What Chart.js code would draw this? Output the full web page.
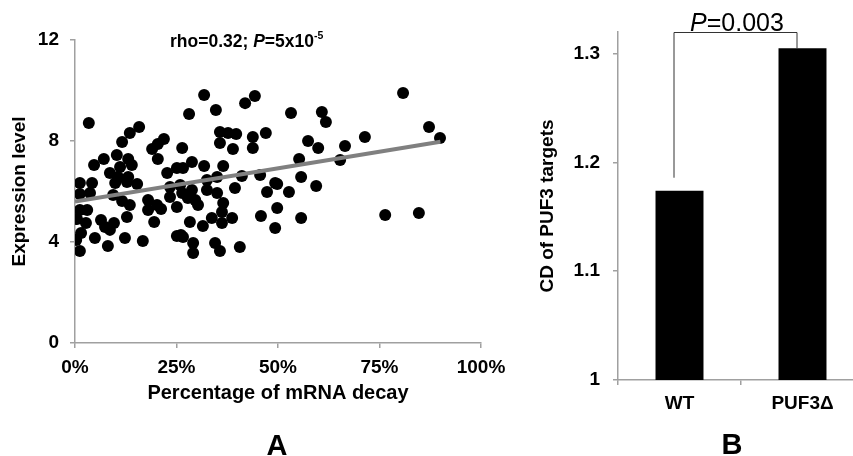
<!DOCTYPE html>
<html><head><meta charset="utf-8">
<script src="https://cdn.jsdelivr.net/npm/chart.js@4/dist/chart.umd.min.js"></script>
<style>
html,body{margin:0;padding:0;background:#fff;width:853px;height:456px;overflow:hidden;}
#wrapA{position:absolute;left:0;top:0;width:520px;height:456px;}
#wrapB{position:absolute;left:520px;top:0;width:333px;height:456px;overflow:hidden;}
.lbl{position:absolute;font-family:"Liberation Sans",Arial,sans-serif;color:#000;white-space:nowrap;line-height:1;}
</style></head><body>
<div id="wrapA"><canvas id="cA" width="520" height="456"></canvas></div>
<div id="wrapB"><canvas id="cB" width="344" height="456"></canvas></div>
<div class="lbl" style="left:170px;top:33px;font-size:17.5px;font-weight:bold;">rho=0.32; <i>P</i>=5x10<span style="font-size:10.5px;position:relative;top:-8px;">-5</span></div>
<div class="lbl" style="left:687px;top:10px;width:100px;text-align:center;font-size:25px;"><i>P</i>=0.003</div>
<div class="lbl" style="left:247px;top:431px;width:60px;text-align:center;font-size:29px;font-weight:bold;">A</div>
<div class="lbl" style="left:702px;top:430px;width:60px;text-align:center;font-size:29px;font-weight:bold;">B</div>
<script>
// ---- Panel A data ----
const decayPct = [3.4,31.8,44.3,41.9,28.1,34.7,15.8,13.5,11.6,21.9,
20.4,19.0,26.4,35.7,37.7,39.7,43.8,47.0,35.7,38.9,
43.8,53.2,60.8,61.8,80.8,87.2,89.9,57.4,59.9,66.5,
71.4,20.4,7.1,4.7,10.3,13.1,14.0,11.1,8.6,10.6,
13.1,15.3,22.7,25.1,28.8,31.8,36.5,35.0,32.5,41.1,
45.6,49.3,55.2,65.3,55.7,59.4,26.6,39.4,32.5,47.3,
52.7,1.2,4.2,1.2,3.7,9.9,23.4,25.9,28.8,12.8,
9.4,11.6,13.5,18.0,20.2,21.2,18.0,23.4,25.1,26.4,
27.8,29.6,30.3,35.0,1.2,3.0,49.8,0.5,2.7,1.5,
1.2,0.3,4.9,6.4,7.4,8.6,8.1,12.3,12.8,16.7,
19.5,25.1,26.6,29.1,29.1,34.5,35.7,40.6,28.3,31.5,
33.7,36.2,38.7,45.8,49.3,36.2,36.5,49.8,55.7,76.4,
84.7,26.1,9.6];
const expressionLevel = [8.71,9.82,9.78,9.50,9.07,9.23,8.55,8.32,7.96,8.08,
7.88,7.68,7.72,8.36,8.32,8.28,8.16,8.32,7.92,7.68,
7.72,9.11,9.15,8.75,9.90,8.55,8.12,8.00,7.72,7.80,
8.16,7.29,7.29,7.05,7.45,7.29,7.05,6.97,6.73,6.57,
6.57,6.30,6.73,6.93,7.17,7.01,7.01,6.57,6.46,6.61,
6.65,6.34,7.29,7.25,6.57,6.22,6.93,6.14,6.06,5.98,
5.98,6.34,6.34,5.90,5.94,6.34,6.18,6.26,6.06,6.38,
5.86,5.62,5.47,5.66,5.47,5.31,5.27,5.78,5.39,5.94,
5.74,5.66,5.47,5.94,5.27,5.27,6.30,4.91,4.75,4.36,
3.64,4.08,4.16,4.87,4.59,4.48,3.84,4.16,4.99,4.04,
4.79,4.24,4.20,3.96,3.56,3.96,3.64,3.80,4.79,4.63,
4.95,4.75,4.95,5.03,4.55,5.19,5.54,5.35,4.95,5.07,
5.15,4.28,4.75];
const trendX = [0, 90];
const trendY = [5.6, 7.97];
const xTicksA = [0, 25, 50, 75, 100];
const yTicksA = [0, 4, 8, 12];

// ---- Panel B data ----
const barCategories = ['WT', 'PUF3\u0394'];
const barValues = [1.174, 1.305];
const yTicksB = [1, 1.1, 1.2, 1.3];

const FONT = '"Liberation Sans", Arial, sans-serif';
const AX = '#a0a0a0';
Chart.defaults.font.family = FONT;
Chart.defaults.color = '#000';

const tickFont = {family: FONT, size: 19, weight: 'bold'};

new Chart(document.getElementById('cA'), {
  type: 'scatter',
  data: {datasets: [
    {data: trendX.map((x, i) => ({x, y: trendY[i]})), showLine: true, borderColor: '#808080',
     borderWidth: 4, pointRadius: 0, borderCapStyle: 'butt', order: 0},
    {data: decayPct.map((x, i) => ({x, y: expressionLevel[i]})), backgroundColor: '#000',
     borderWidth: 0, pointRadius: 6, order: 1}
  ]},
  options: {
    responsive: false, animation: false,
    layout: {padding: {left: 0, right: 39, top: 40, bottom: 0}},
    plugins: {legend: {display: false}, tooltip: {enabled: false}},
    scales: {
      x: {type: 'linear', min: 0, max: 100,
        afterBuildTicks: s => { s.ticks = xTicksA.map(v => ({value: v})); },
        ticks: {callback: v => v + '%', font: tickFont, color: '#000', padding: 8, maxRotation: 0},
        grid: {drawOnChartArea: false, color: AX, lineWidth: 1.5, tickLength: 5},
        border: {color: AX, width: 1.5},
        title: {display: true, text: 'Percentage of mRNA decay', color: '#000',
          font: {family: FONT, size: 20, weight: 'bold'}, padding: {top: 4, bottom: 51}},
        afterFit: s => { s.height = 113; }
      },
      y: {type: 'linear', min: 0, max: 12,
        afterBuildTicks: s => { s.ticks = yTicksA.map(v => ({value: v})); },
        ticks: {font: tickFont, color: '#000', padding: 11},
        grid: {drawOnChartArea: false, color: AX, lineWidth: 1.5, tickLength: 5},
        border: {color: AX, width: 1.5},
        title: {display: true, text: 'Expression level', color: '#000',
          font: {family: FONT, size: 19, weight: 'bold'}, padding: {top: 8.6, bottom: 0}},
        afterFit: s => { s.width = 75; }
      }
    }
  }
});

const bracketPlugin = {
  id: 'bracket',
  afterDatasetsDraw(chart) {
    const {ctx, scales: {x, y}} = chart;
    const x1 = x.getPixelForValue(0) - 6;
    const x2 = x.getPixelForValue(1) - 6;
    const top = y.getPixelForValue(Math.max(...barValues) + 0.015);
    const yL = y.getPixelForValue(barValues[0] + 0.012);
    const yR = y.getPixelForValue(barValues[1]);
    ctx.save();
    ctx.strokeStyle = '#333';
    ctx.lineWidth = 1;
    ctx.beginPath();
    ctx.moveTo(x1 + 0.5, yL);
    ctx.lineTo(x1 + 0.5, top + 0.5);
    ctx.lineTo(x2 + 0.5, top + 0.5);
    ctx.lineTo(x2 + 0.5, yR);
    ctx.stroke();
    ctx.restore();
  }
};

new Chart(document.getElementById('cB'), {
  type: 'bar',
  data: {labels: barCategories, datasets: [
    {data: barValues, backgroundColor: '#000', borderWidth: 0, barPercentage: 0.39, categoryPercentage: 1}
  ]},
  options: {
    responsive: false, animation: false,
    layout: {padding: {left: 0, right: 0, top: 32, bottom: 0}},
    plugins: {legend: {display: false}, tooltip: {enabled: false}},
    scales: {
      x: {
        ticks: {font: tickFont, color: '#000', padding: 7, maxRotation: 0},
        grid: {offset: true, drawOnChartArea: false, color: AX, lineWidth: 1.5, tickLength: 5},
        border: {color: AX, width: 1.5},
        afterFit: s => { s.height = 76; }
      },
      y: {min: 1, max: 1.32,
        afterBuildTicks: s => { s.ticks = yTicksB.map(v => ({value: v})); },
        ticks: {font: tickFont, color: '#000', padding: 13,
          callback: v => (Math.abs(v - 1) < 1e-9 ? '1' : v.toFixed(1))},
        grid: {drawOnChartArea: false, color: AX, lineWidth: 1.5, tickLength: 5},
        border: {color: AX, width: 1.5},
        title: {display: true, text: 'CD of PUF3 targets', color: '#000',
          font: {family: FONT, size: 19, weight: 'bold'}, padding: {top: 16.6, bottom: 0}},
        afterFit: s => { s.width = 98; }
      }
    }
  },
  plugins: [bracketPlugin]
});
</script>
</body></html>
